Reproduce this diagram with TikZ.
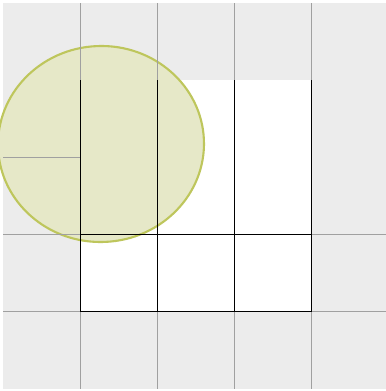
\documentclass[tikz,border=0pt]{standalone}
\usepackage{xcolor}
\usepackage{tikz}
\usetikzlibrary{calc}

\definecolor{bggray}{HTML}{ECECEC}
\definecolor{gridgray}{HTML}{A0A0A0}
\definecolor{blobfill}{HTML}{E6E8C8}
\definecolor{blobline}{HTML}{BEC65C}

\begin{document}
\begin{tikzpicture}[
  x=0.5mm, y=-0.5mm,
  gridline/.style={draw=gridgray, line width=1.2pt},
  cellline/.style={draw=black, line width=1.3pt},
  blob/.style={fill=blobfill, draw=blobline, line width=3pt}
]
\useasboundingbox (0,0) rectangle (386,391);

% background and open cells
\fill[bggray] (3,3) rectangle (386,389);
\fill[white] (80,80) rectangle (311,311);

% the round patch
\coordinate (c) at (101,144);
\draw[blob, rotate around={2.3:(c)}] (c) ellipse [x radius=103, y radius=98];

% gray grid outside the cells
\foreach \x in {80,157,234,311} {
  \draw[gridline] (\x,3) -- (\x,80);
  \draw[gridline] (\x,311) -- (\x,389);
}
\draw[gridline] (3,157) -- (80,157);
\foreach \y in {234,311} {
  \draw[gridline] (3,\y) -- (80,\y);
  \draw[gridline] (311,\y) -- (386,\y);
}

% black cell borders
\draw[cellline] (80,80) -- (80,311) -- (311,311) -- (311,80);
\foreach \x in {157,234}
  \draw[cellline] (\x,80) -- (\x,311);
\draw[cellline] (80,234) -- (311,234);

\end{tikzpicture}
\end{document}
